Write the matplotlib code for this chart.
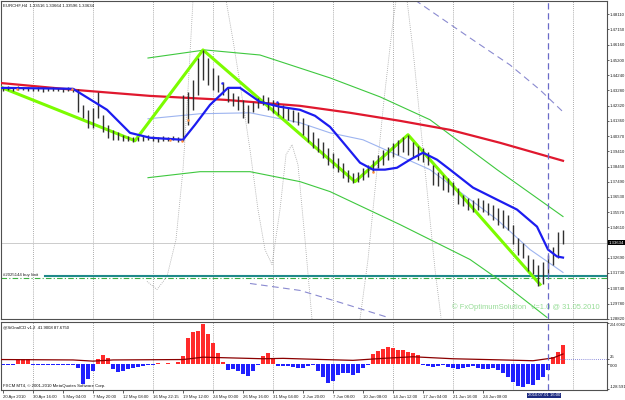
import matplotlib.pyplot as plt
from matplotlib.transforms import blended_transform_factory

plt.rcParams['font.family'] = ['Liberation Sans', 'DejaVu Sans']

# H4 price bars (high / low), one slot per bar
bar_high = [1.4350, 1.4356, 1.4350, 1.4356, 1.4350, 1.4350, 1.4344, 1.4350, 1.4344, 1.4344,
            1.4350, 1.4344, 1.4344, 1.4350, 1.4344, 1.4338, 1.4236, 1.4205, 1.4217, 1.4319,
            1.4173, 1.4110, 1.4078, 1.4066, 1.4047, 1.4040, 1.4034, 1.4034, 1.4040, 1.4047,
            1.4040, 1.4034, 1.4040, 1.4034, 1.4040, 1.4034, 1.4300, 1.4319, 1.4394, 1.4533,
            1.4584, 1.4533, 1.4470, 1.4426, 1.4382, 1.4344, 1.4312, 1.4293, 1.4268, 1.4236,
            1.4255, 1.4281, 1.4300, 1.4287, 1.4268, 1.4255, 1.4236, 1.4217, 1.4205, 1.4192,
            1.4154, 1.4110, 1.4066, 1.4028, 1.4003, 1.3965, 1.3933, 1.3901, 1.3870, 1.3826,
            1.3807, 1.3813, 1.3838, 1.3857, 1.3889, 1.3920, 1.3952, 1.3971, 1.3996, 1.4015,
            1.4034, 1.4047, 1.4003, 1.3977, 1.3965, 1.3939, 1.3857, 1.3813, 1.3794, 1.3775,
            1.3750, 1.3712, 1.3668, 1.3649, 1.3636, 1.3649, 1.3636, 1.3617, 1.3604, 1.3585,
            1.3573, 1.3541, 1.3478, 1.3396, 1.3364, 1.3288, 1.3257, 1.3225, 1.3244, 1.3288,
            1.3333, 1.3434, 1.3446]
bar_low = [1.4325, 1.4331, 1.4325, 1.4331, 1.4331, 1.4325, 1.4325, 1.4325, 1.4319, 1.4325,
           1.4325, 1.4325, 1.4319, 1.4325, 1.4319, 1.4192, 1.4154, 1.4091, 1.4091, 1.4154,
           1.4066, 1.4028, 1.4015, 1.4015, 1.4009, 1.4009, 1.4003, 1.4009, 1.4009, 1.4015,
           1.4009, 1.4003, 1.4009, 1.4009, 1.4015, 1.4003, 1.4009, 1.4110, 1.4205, 1.4300,
           1.4394, 1.4363, 1.4331, 1.4319, 1.4300, 1.4255, 1.4230, 1.4205, 1.4154, 1.4123,
           1.4192, 1.4217, 1.4236, 1.4205, 1.4186, 1.4173, 1.4154, 1.4142, 1.4129, 1.4110,
           1.4047, 1.4003, 1.3965, 1.3939, 1.3901, 1.3857, 1.3838, 1.3813, 1.3775, 1.3750,
           1.3743, 1.3750, 1.3762, 1.3781, 1.3813, 1.3838, 1.3857, 1.3889, 1.3908, 1.3920,
           1.3939, 1.3920, 1.3908, 1.3889, 1.3876, 1.3857, 1.3731, 1.3725, 1.3699, 1.3687,
           1.3668, 1.3611, 1.3598, 1.3573, 1.3560, 1.3573, 1.3560, 1.3541, 1.3510, 1.3478,
           1.3459, 1.3446, 1.3352, 1.3288, 1.3269, 1.3181, 1.3162, 1.3086, 1.3099, 1.3162,
           1.3225, 1.3269, 1.3352]
last_price = 1.33634
buy_limit = 1.3152
buy_line2 = 1.3139

ma_fast_x = [-0.6, 14, 20.8, 25.4, 29.4, 36, 38.4, 41.4, 45, 47.4, 51.4, 55.4, 59.4, 62.4, 65.4,
             68.4, 71.4, 74, 76.4, 78.8, 81.4, 84, 86.8, 89.4, 94, 98.8, 102.8, 106.8, 109, 110.8, 112]
ma_fast_y = [1.4344, 1.4338, 1.4205, 1.4059, 1.4028, 1.4015, 1.4110, 1.4236, 1.4344, 1.4344,
             1.4255, 1.4224, 1.4205, 1.4167, 1.4097, 1.3984, 1.3870, 1.3826, 1.3826, 1.3838,
             1.3889, 1.3933, 1.3889, 1.3826, 1.3712, 1.3636, 1.3573, 1.3465, 1.3320, 1.3276, 1.3269]
ma_slow_x = [-0.6, 14.4, 29.4, 44.4, 59.4, 69.4, 79.4, 89.4, 99.4, 112]
ma_slow_y = [1.4375, 1.4331, 1.4293, 1.4268, 1.4230, 1.4186, 1.4135, 1.4078, 1.3996, 1.3882]

reg_mid_x = [29, 39.4, 49.4, 59.4, 65.4, 72, 85.4, 98.8, 105.4, 112]
reg_mid_y = [1.4148, 1.4180, 1.4186, 1.4123, 1.4059, 1.4015, 1.3826, 1.3510, 1.3320, 1.3175]
reg_up_x = [29, 40.4, 51.4, 65.4, 75.4, 85.4, 98.8, 112]
reg_up_y = [1.4533, 1.4584, 1.4552, 1.4407, 1.4287, 1.4142, 1.3826, 1.3529]
reg_dn_x = [29, 39.4, 49.4, 59.4, 65.4, 79.4, 93.4, 98.8, 108.8]
reg_dn_y = [1.3775, 1.3813, 1.3813, 1.3750, 1.3687, 1.3478, 1.3257, 1.3137, 1.2890]
reg_up2_x = [82.4, 93.4, 101.4, 107.4, 112]
reg_up2_y = [1.4900, 1.4660, 1.4489, 1.4331, 1.4192]
reg_dn2_x = [49.4, 59.4, 67.4, 77]
reg_dn2_y = [1.3105, 1.3061, 1.2985, 1.2890]

zigzag_x = [-0.6, 26.4, 40, 70.4, 81, 107.4]
zigzag_y = [1.4350, 1.4009, 1.4584, 1.3750, 1.4047, 1.3099]

dots = [
    ([28.8, 30.8, 32.8, 34.6, 36, 37, 38], [1.3118, 1.3067, 1.3149, 1.3383, 1.3826, 1.4331, 1.4900]),
    ([44.6, 46, 47.6, 49.4, 51, 52.4, 53.8, 55.4, 56.6, 57.8, 59, 60.4, 61.8],
     [1.4900, 1.4647, 1.4331, 1.3952, 1.3573, 1.3320, 1.3225, 1.3573, 1.3920, 1.3984, 1.3857, 1.3383, 1.2878]),
    ([71.4, 73, 74.6, 76.2, 77.8, 78.6], [1.2878, 1.3257, 1.3762, 1.4268, 1.4710, 1.4900]),
    ([80.8, 82, 83.4, 85, 86.4, 87.6], [1.4900, 1.4584, 1.4142, 1.3636, 1.3194, 1.2890]),
]

fractal_x = [2.8, 13.8, 33.4, 35.8, 37, 74]
fractal_y = [1.4338, 1.4338, 1.4015, 1.4009, 1.4142, 1.3813]
fractal2_x = [43.8, 54.8]
fractal2_y = [1.4375, 1.4255]

hist = [-8, -8, -6, 20, 25, 22, -6, -8, -8, -8, -7, -8, -8, -7, -8,
        -25, -105, -80, -40, 25, 45, 30, -30, -43, -40, -30, -25, -20, -15, -10, -6, 5, -5, 5, -4, 6,
        40, 130, 160, 165, 200, 150, 105, 55, 10, -35, -30, -40, -55, -65, -38, -10, 40, 53, 30, -12, -15, -12, -18, -22,
        -25, -15, -10, -40, -70, -98, -90, -60, -50, -50, -60, -48, -25, -8, 50, 62, 72, 82, 78, 70, 68, 60, 55, 45, -8,
        -12, -20, -15, -10, -18, -25, -30, -25, -20, -15, -22, -30, -28, -25, -35, -50, -70, -95, -115, -120, -105,
        -110, -85, -70, -35, 35, 60, 95]
sig_x = [-0.4, 14, 18, 22, 36, 40, 46, 52, 56, 64, 70, 76, 82, 90, 100, 106, 110, 112]
sig_v = [20, 18, 12, 18, 20, 32, 28, 24, 26, 20, 16, 26, 34, 24, 18, 14, 28, 48]

price_ticks = [1.4811, 1.4715, 1.4616, 1.4520, 1.4424, 1.4328, 1.4232, 1.4136, 1.4037, 1.3941,
               1.3845, 1.3749, 1.3653, 1.3557, 1.3461, 1.3269, 1.3173, 1.3074, 1.2978, 1.2882]
ind_ticks = [204.6082, 25, 0, -128.591]
ind_labels = ['204.6082', '25', '0.00', '-128.591']
date_pos = [0, 6, 12, 18, 24, 30, 36, 42, 48, 54, 60, 66, 72, 78, 84, 90, 96]
date_labels = ['20 Apr 2010', '30 Apr 16:00', '5 May 04:00', '7 May 20:00', '12 May 08:00',
               '16 May 22:15', '19 May 12:00', '24 May 00:00', '26 May 16:00', '31 May 04:00',
               '2 Jun 20:00', '7 Jun 08:00', '10 Jun 08:00', '14 Jun 12:00', '17 Jun 04:00',
               '21 Jun 16:00', '24 Jun 08:00']
grid_pos = [6, 18, 30, 42, 54, 66, 78, 90, 102, 114]
cursor_x = 109

fs = 3.1
fig = plt.figure(figsize=(6.25, 4), dpi=100)
ax = fig.add_axes([0.0016, 0.2025, 0.9696, 0.795])
ax2 = fig.add_axes([0.0016, 0.025, 0.9696, 0.17])

idx = list(range(len(bar_high)))

for a in (ax, ax2):
    a.set_xlim(-0.4, 120.8)
    for g in grid_pos:
        a.axvline(g, color='#909090', lw=0.6, ls=(0, (1, 1.5)), zorder=0)
    a.axvline(cursor_x, color='#6a6ac8', lw=0.9, ls=(0, (5, 3)), zorder=5)
    for s in a.spines.values():
        s.set_color('#505050')
        s.set_linewidth(0.8)

ax.set_ylim(1.2880, 1.4894)
ax.axhline(last_price, color='#cccccc', lw=0.7, zorder=1)
ax.plot([8.4, 120.8], [buy_limit, buy_limit], color='#1f8a8a', lw=1.5, zorder=2)
ax.axhline(buy_line2, color='#3cb043', lw=0.8, ls=(0, (5, 2, 1, 2)), zorder=2)

for xs, ys in dots:
    ax.plot(xs, ys, color='#a0a0a0', lw=0.6, ls=(0, (1, 1.5)), zorder=1)
ax.plot(reg_up2_x, reg_up2_y, color='#8a8ad0', lw=0.8, ls=(0, (6, 4)), zorder=2)
ax.plot(reg_dn2_x, reg_dn2_y, color='#8a8ad0', lw=0.8, ls=(0, (6, 4)), zorder=2)
ax.plot(reg_up_x, reg_up_y, color='#3ec83e', lw=0.8, zorder=2)
ax.plot(reg_dn_x, reg_dn_y, color='#3ec83e', lw=0.8, zorder=2)
ax.plot(reg_mid_x, reg_mid_y, color='#9db4f0', lw=0.8, zorder=2)
ax.plot(ma_slow_x, ma_slow_y, color='#e0182e', lw=1.6, zorder=3)
ax.plot(zigzag_x, zigzag_y, color='#7cfc00', lw=2.2, zorder=3)
ax.vlines(idx, bar_low, bar_high, color='#303030', lw=1.0, zorder=4)
ax.plot(ma_fast_x, ma_fast_y, color='#1c1cf0', lw=1.6, zorder=4)
ax.plot(fractal_x, fractal_y, 'o', color='#ff8c3c', ms=1.8, mew=0, zorder=5)
ax.plot(fractal2_x, fractal2_y, 'o', color='#2a2aff', ms=1.8, mew=0, zorder=5)

ax.set_xticks([])
ax.yaxis.tick_right()
ax.set_yticks(price_ticks)
ax.set_yticklabels(['%.5f' % v for v in price_ticks])
ax.tick_params(axis='y', labelsize=fs, length=1.5, width=0.5, pad=0.5, colors='#202020')

ytr = blended_transform_factory(ax.transAxes, ax.transData)
ax.text(1.003, last_price, '1.33634', transform=ytr, fontsize=fs, color='white', va='center', ha='left',
        bbox=dict(facecolor='black', edgecolor='none', pad=0.5), zorder=10)
ax.text(0.004, 0.993, 'EURCHF,H4  1.33516 1.33664 1.33596 1.33634', transform=ax.transAxes,
        fontsize=fs, va='top', ha='left', color='#101010')
ax.text(0.0, buy_limit + 0.0008, '#2025144 buy limit', fontsize=fs, va='center', ha='left', color='#202020')
ax.text(89.8, 1.2953, '\u00a9 FxOptimumSolution  V=1.0 @ 31.05.2010', fontsize=5.4,
        va='center', ha='left', color='#96dc96')

# indicator panel
ax2.set_ylim(-133.8, 209.6)
cols = ['#ff2a2a' if v > 0 else '#2020ff' for v in hist]
ax2.bar(idx, hist, width=0.7, color=cols, edgecolor='none', zorder=2)
ax2.plot(sig_x, sig_v, color='#8b0000', lw=0.9, zorder=3)
ax2.plot([111.5, 120.8], [25, 25], color='#6a6ad0', lw=0.6, ls=(0, (1, 1.5)), zorder=3)
ax2.yaxis.tick_right()
ax2.set_yticks(ind_ticks)
ax2.set_yticklabels(ind_labels)
ax2.tick_params(axis='y', labelsize=fs, length=1.5, width=0.5, pad=0.5, colors='#202020')
tl = ax2.get_yticklabels()
tl[0].set_va('top')
tl[0].set_fontsize(2.7)
tl[1].set_va('bottom')
tl[2].set_va('top')
tl[3].set_va('bottom')
ax2.set_xticks(date_pos)
ax2.set_xticklabels(date_labels, ha='left')
ax2.tick_params(axis='x', labelsize=fs, length=2, width=0.5, pad=1.5, colors='#202020')

ax2.text(0.004, 0.95, '@SiGnalCD v1.2  41.9008 87.6750', transform=ax2.transAxes, fontsize=fs,
         va='top', ha='left', color='#101010')
ax2.text(0.004, 0.03, 'FXCM MT4, \u00a9 2001-2010 MetaQuotes Software Corp.', transform=ax2.transAxes,
         fontsize=fs, va='bottom', ha='left', color='#101010')
xtr = blended_transform_factory(ax2.transData, ax2.transAxes)
ax2.text(108.2, -0.08, '2010.07.01 16:00', transform=xtr, fontsize=fs, color='white', va='center',
         ha='center', bbox=dict(facecolor='#1c2a80', edgecolor='none', pad=0.5), zorder=10)

fig.savefig('out.png', dpi=100, facecolor='white')
